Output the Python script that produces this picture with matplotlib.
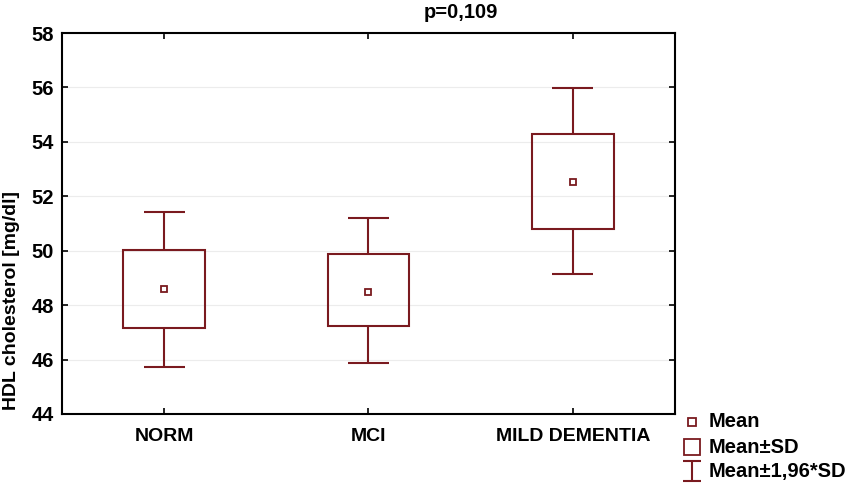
import numpy as np
import matplotlib.pyplot as plt
from matplotlib.path import Path

# data
groups = ['NORM', 'MCI', 'MILD DEMENTIA']
means = [48.59, 48.48, 52.52]
sd_low = [47.15, 47.23, 50.79]
sd_high = [50.02, 49.88, 54.29]
ci_low = [45.72, 45.87, 49.14]
ci_high = [51.42, 51.20, 55.98]
y_ticks = [44, 46, 48, 50, 52, 54, 56, 58]
legend_labels = ['Mean', 'Mean±SD', 'Mean±1,96*SD']

red = '#7a1a1f'
plt.rcParams['font.family'] = ['Liberation Sans', 'DejaVu Sans']
plt.rcParams['font.weight'] = 'bold'

fig = plt.figure(figsize=(8.5, 4.87), dpi=100)
ax = fig.add_axes([0.0729, 0.1499, 0.7212, 0.7823])

x = np.arange(len(groups)) + 0.5

# boxes (mean +/- SD)
ax.bar(x, np.array(sd_high) - np.array(sd_low), bottom=sd_low, width=0.4,
       fill=False, edgecolor=red, linewidth=1.5, zorder=3)
# whiskers (mean +/- 1.96 SD)
ax.vlines(x, sd_high, ci_high, color=red, linewidth=1.5, zorder=3)
ax.vlines(x, ci_low, sd_low, color=red, linewidth=1.5, zorder=3)
ax.hlines(ci_high, x - 0.1, x + 0.1, color=red, linewidth=1.5, zorder=3)
ax.hlines(ci_low, x - 0.1, x + 0.1, color=red, linewidth=1.5, zorder=3)
# means
ax.plot(x, means, 's', ms=5, mfc='white', mec=red, mew=1.3, zorder=4)

ax.set_xlim(0, 3)
ax.set_ylim(44, 58)
ax.set_xticks(x)
ax.set_xticklabels(groups, fontsize=14, fontweight='bold')
ax.set_yticks(y_ticks)
ax.set_yticklabels([str(t) for t in y_ticks], fontsize=14.5, fontweight='bold')
ax.tick_params(direction='in', length=4, width=1.2, top=True, right=True, pad=6)
ax.tick_params(axis='x', pad=10)
ax.grid(axis='y', color='#ececec', linewidth=0.8)
ax.set_axisbelow(True)
for s in ax.spines.values():
    s.set_linewidth(1.5)

ax.set_ylabel('HDL cholesterol [mg/dl]', fontsize=14, fontweight='bold', va='center')
ax.yaxis.set_label_coords(-0.083, 0.297)
fig.text(0.542, 0.975, 'p=0,109', ha='center', va='center', fontsize=14.5, fontweight='bold')

# legend, drawn by hand in figure coordinates
whisker = Path([(-0.45, 0.5), (0.45, 0.5), (0, 0.5), (0, -0.5), (-0.45, -0.5), (0.45, -0.5)],
               [Path.MOVETO, Path.LINETO, Path.MOVETO, Path.LINETO, Path.MOVETO, Path.LINETO])
rows_y = [0.134, 0.082, 0.032]
styles = [dict(marker='s', ms=5.5, mfc='white', mec=red, mew=1.3),
          dict(marker='s', ms=11.5, mfc='white', mec=red, mew=1.3),
          dict(marker=whisker, ms=15, mec=red, mew=1.5)]
for yy, st, lab in zip(rows_y, styles, legend_labels):
    fig.add_artist(plt.Line2D([0.8145], [yy], ls='none', transform=fig.transFigure, **st))
    fig.text(0.834, yy, lab, ha='left', va='center', fontsize=14.5, fontweight='bold')

fig.savefig('out.png', dpi=100)
